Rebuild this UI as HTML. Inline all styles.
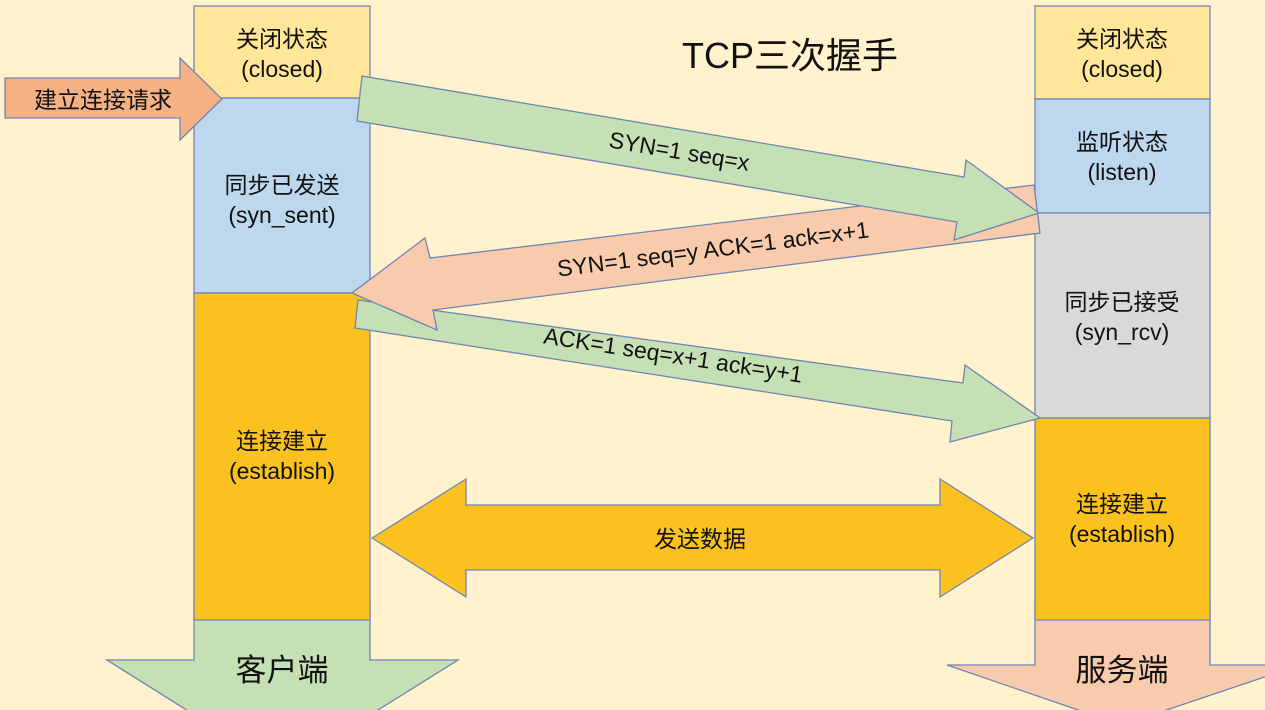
<!DOCTYPE html>
<html><head><meta charset="utf-8"><style>
html,body{margin:0;padding:0;background:#FFF2CC;width:1265px;height:710px;overflow:hidden;}
svg{display:block;}
text{font-family:"Liberation Sans","Noto Sans CJK SC",sans-serif;fill:#111;}
</style></head><body>
<svg width="1265" height="710" viewBox="0 0 1265 710" xmlns="http://www.w3.org/2000/svg">
<rect width="1265" height="710" fill="#FFF2CC"/>
<g stroke="#6F86B5" stroke-width="1.3">
<polygon points="194,600 370,600 370,660 458,660 282,770 107,660 194,660" fill="#C5E0B4"/>
<polygon points="1035,600 1210,600 1210,665 1300,665 1122,725 947,665 1035,665" fill="#F8CBAD"/>
<rect x="194" y="6" width="176" height="92" fill="#FFE699"/>
<rect x="194" y="98" width="176" height="195" fill="#BDD7EE"/>
<rect x="194" y="293" width="176" height="327" fill="#FBC11F"/>
<rect x="1035" y="6" width="175" height="93" fill="#FFE699"/>
<rect x="1035" y="99" width="175" height="114" fill="#BDD7EE"/>
<rect x="1035" y="213" width="175" height="205" fill="#D9D9D9"/>
<rect x="1035" y="418" width="175" height="202" fill="#FBC11F"/>
<polygon points="5,78 180,78 180,58 222,99 180,140 180,118 5,118" fill="#F4B183"/>
<polygon points="358,300 963,383 965,365 1040,418 950,442 952,421 355,328" fill="#C5E0B4"/>
<polygon points="1034,185 430,258 425,238 352,293 437,330 433,310 1040,233" fill="#F8CBAD"/>
<polygon points="362,76 964,177 966,160 1039,213 954,240 957,222 357,121" fill="#C5E0B4"/>
<polygon points="372,538 466,479 466,505 940,505 940,479 1033,538 940,597 940,570 466,570 466,597" fill="#FBC11F"/>
</g>
<g font-size="23" text-anchor="middle">
<text x="282" y="47">关闭状态</text><text x="282" y="77">(closed)</text>
<text x="282" y="193">同步已发送</text><text x="282" y="223">(syn_sent)</text>
<text x="282" y="449">连接建立</text><text x="282" y="479">(establish)</text>
<text x="1122" y="47">关闭状态</text><text x="1122" y="77">(closed)</text>
<text x="1122" y="150">监听状态</text><text x="1122" y="180">(listen)</text>
<text x="1122" y="310">同步已接受</text><text x="1122" y="340">(syn_rcv)</text>
<text x="1122" y="512">连接建立</text><text x="1122" y="542">(establish)</text>
<text x="103" y="108">建立连接请求</text>
<text x="700" y="547">发送数据</text>
<text transform="translate(678,159) rotate(9.5)">SYN=1 seq=x</text>
<text transform="translate(714,257) rotate(-7.2)">SYN=1 seq=y ACK=1 ack=x+1</text>
<text transform="translate(672,363) rotate(8.7)">ACK=1 seq=x+1 ack=y+1</text>
</g>
<text x="790" y="68" font-size="36" text-anchor="middle">TCP三次握手</text>
<text x="282" y="681" font-size="31" text-anchor="middle">客户端</text>
<text x="1122" y="681" font-size="31" text-anchor="middle">服务端</text>
</svg>
</body></html>
